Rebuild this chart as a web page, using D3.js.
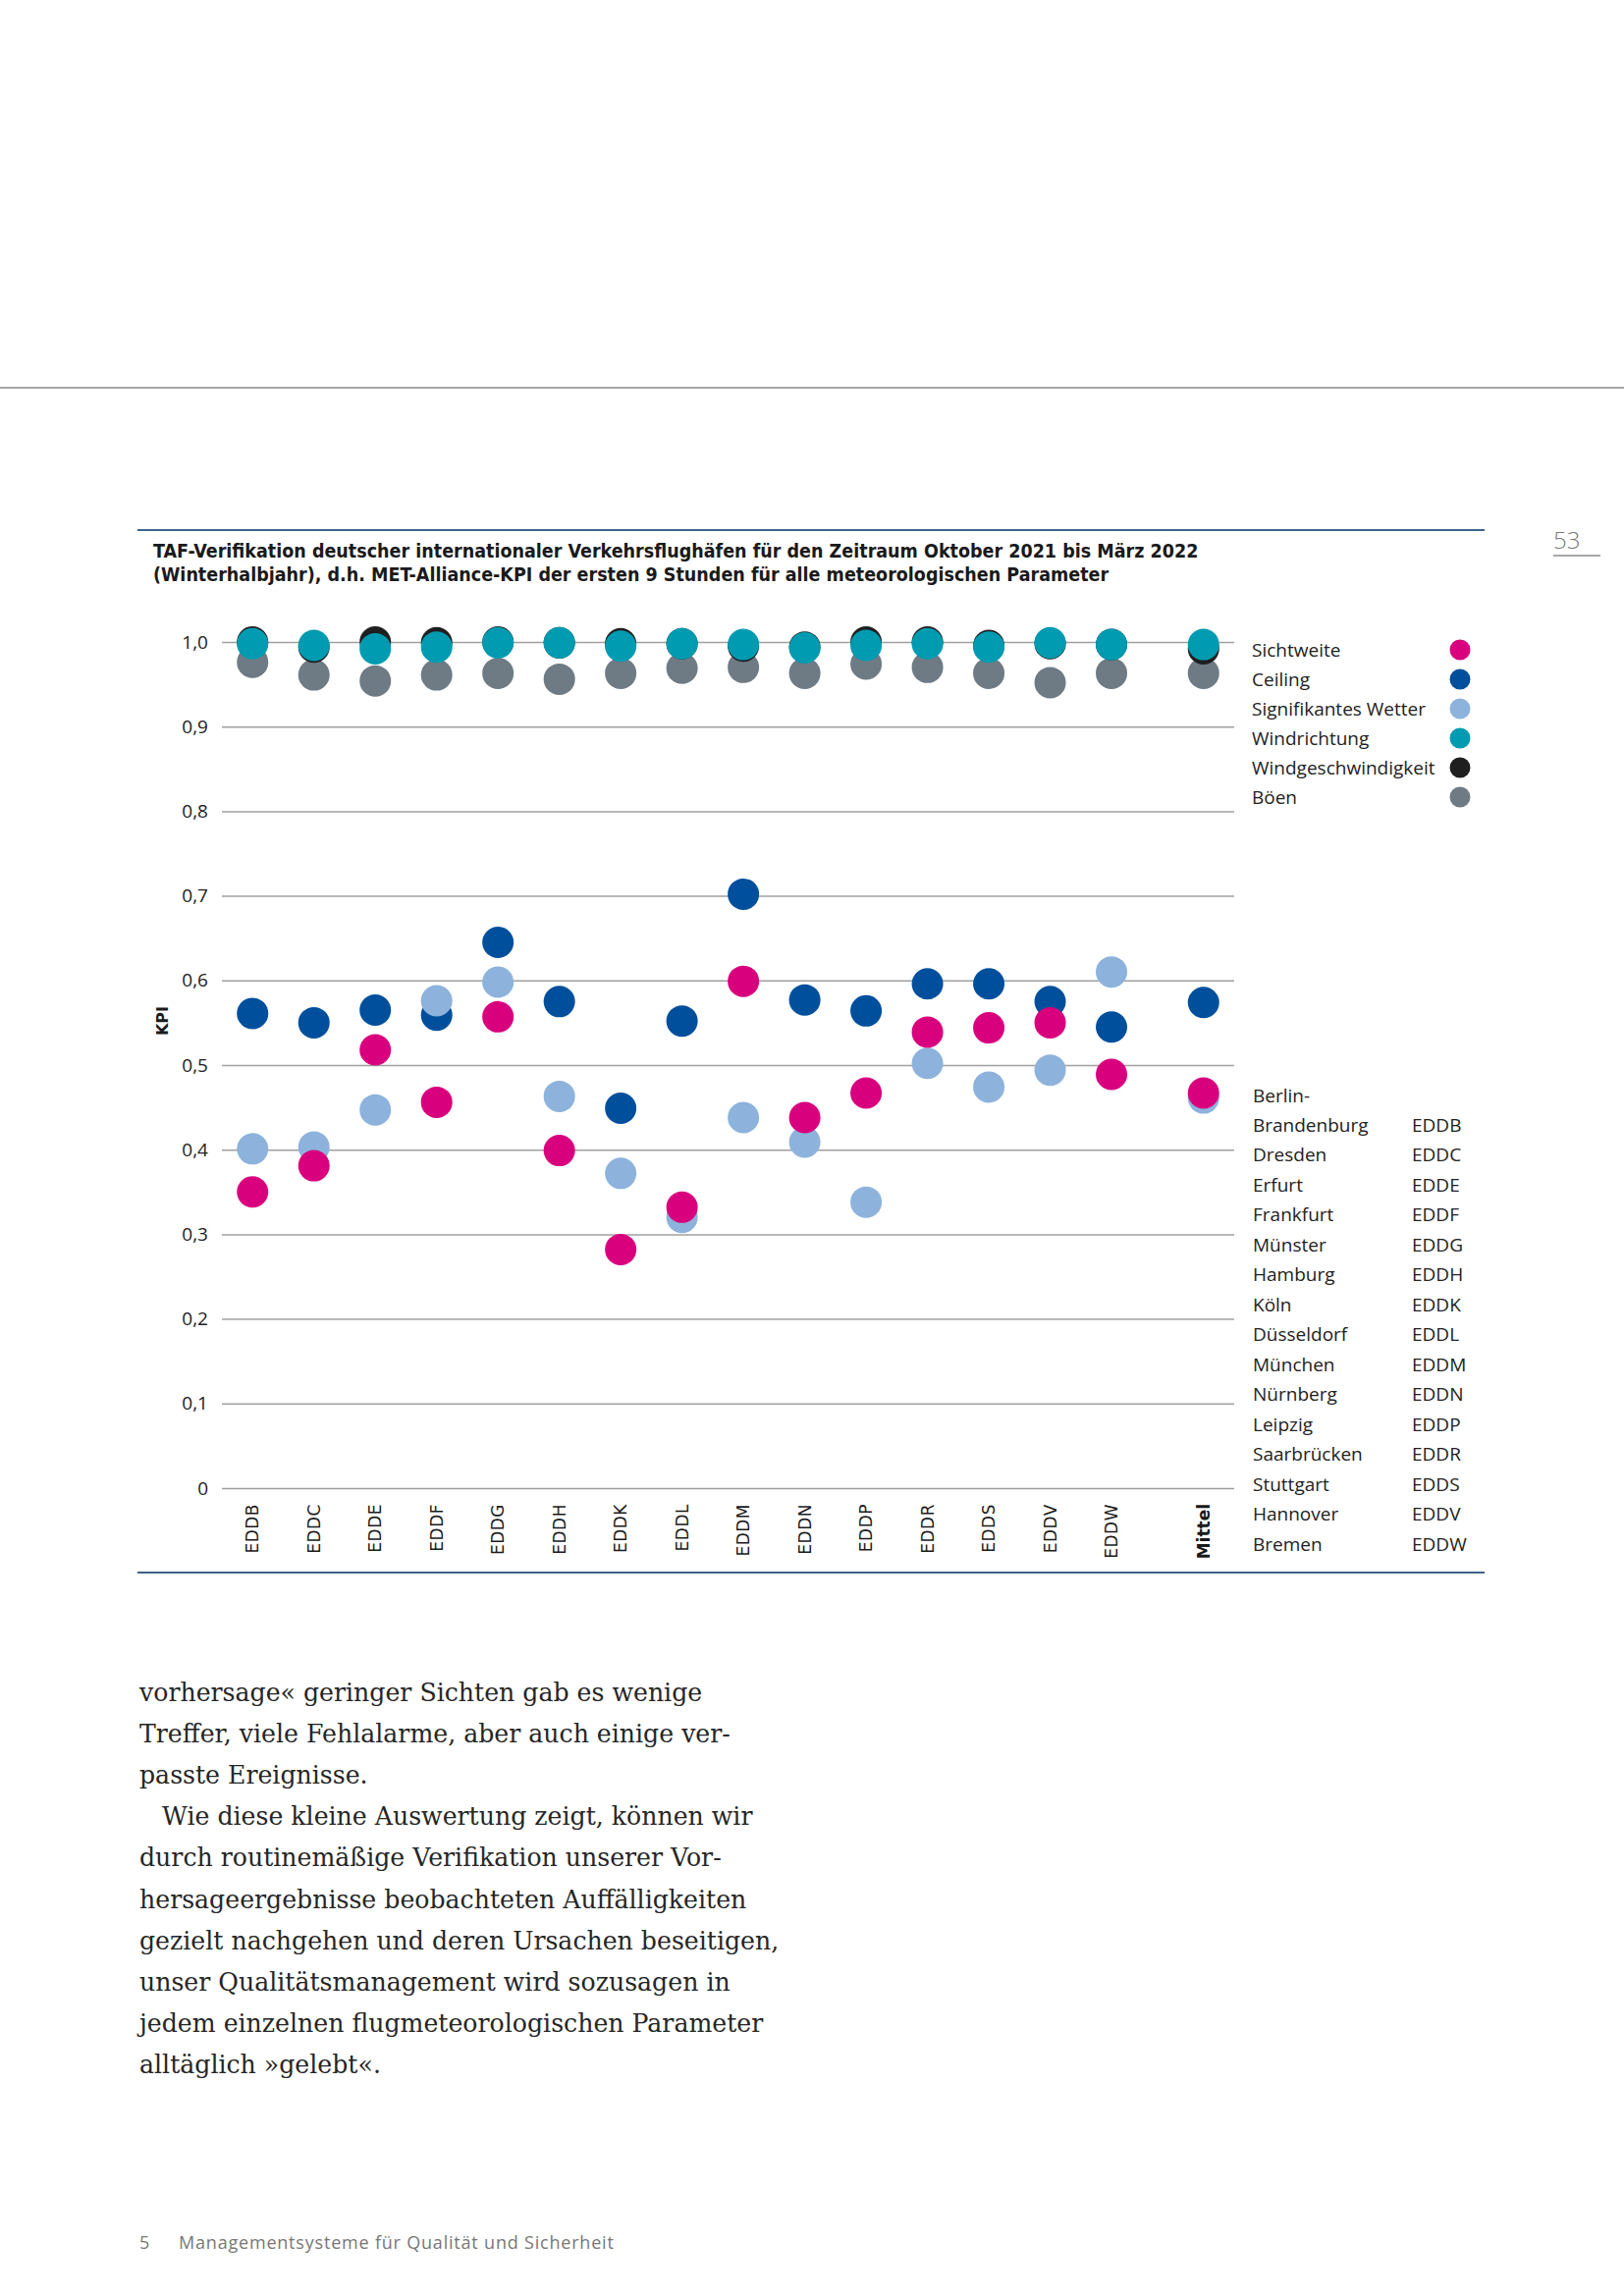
<!DOCTYPE html>
<html>
<head>
<meta charset="utf-8">
<script src="https://cdn.jsdelivr.net/npm/d3@7"></script>
<style>
  body { margin: 0; background: #fff; }
  svg { display: block; }
</style>
</head>
<body>
<svg width="1654" height="2339"></svg>
<script>
(function () {
  'use strict';

  // airports on the x axis, the last entry is the mean
  var categories = ["EDDB", "EDDC", "EDDE", "EDDF", "EDDG", "EDDH", "EDDK", "EDDL",
                    "EDDM", "EDDN", "EDDP", "EDDR", "EDDS", "EDDV", "EDDW", "Mittel"];

  // KPI values per parameter (same order as categories)
  var sichtweite   = [0.350, 0.381, 0.518, 0.456, 0.557, 0.399, 0.282, 0.332, 0.599, 0.438, 0.467, 0.539, 0.544, 0.550, 0.489, 0.467];
  var ceiling      = [0.561, 0.550, 0.565, 0.559, 0.645, 0.575, 0.449, 0.552, 0.702, 0.577, 0.564, 0.596, 0.596, 0.575, 0.545, 0.574];
  var sigWetter    = [0.401, 0.403, 0.447, 0.576, 0.598, 0.463, 0.372, 0.320, 0.438, 0.409, 0.338, 0.502, 0.474, 0.494, 0.610, 0.461];
  var windrichtung = [0.998, 0.996, 0.992, 0.994, 0.999, 0.999, 0.995, 0.998, 0.997, 0.993, 0.996, 0.998, 0.994, 0.999, 0.997, 0.997];
  var windgeschw   = [1.000, 0.994, 1.000, 0.999, 1.000, 0.999, 0.998, 0.998, 0.995, 0.994, 1.000, 1.000, 0.996, 0.998, 0.997, 0.992];
  var boeen        = [0.976, 0.961, 0.954, 0.961, 0.963, 0.956, 0.963, 0.969, 0.970, 0.963, 0.974, 0.970, 0.963, 0.952, 0.963, 0.963];

  var yTicks = [0, 0.1, 0.2, 0.3, 0.4, 0.5, 0.6, 0.7, 0.8, 0.9, 1.0];

  // airport name table on the right
  var airportNames = ["Berlin-\nBrandenburg", "Dresden", "Erfurt", "Frankfurt", "Münster", "Hamburg", "Köln",
                      "Düsseldorf", "München", "Nürnberg", "Leipzig", "Saarbrücken", "Stuttgart", "Hannover", "Bremen"];
  var airportCodes = categories.slice(0, 15);

  // legend order, and the order in which the dots are painted (last on top)
  var series = [
    { name: "Sichtweite",           values: sichtweite,   color: "#d9007e" },
    { name: "Ceiling",              values: ceiling,      color: "#004f9c" },
    { name: "Signifikantes Wetter", values: sigWetter,    color: "#8db3dc" },
    { name: "Windrichtung",         values: windrichtung, color: "#009bb1" },
    { name: "Windgeschwindigkeit",  values: windgeschw,   color: "#1f1f1f" },
    { name: "Böen",                 values: boeen,        color: "#6e7b84" }
  ];
  var drawOrder = ["Böen", "Windgeschwindigkeit", "Windrichtung", "Ceiling", "Signifikantes Wetter", "Sichtweite"];

  var svg = d3.select("svg");
  var sans = "'Open Sans', 'DejaVu Sans', sans-serif";

  // page furniture
  svg.append("rect").attr("width", 1654).attr("height", 2339).attr("fill", "#fff");
  svg.append("line").attr("x1", 0).attr("x2", 1654).attr("y1", 395).attr("y2", 395)
      .attr("stroke", "#8a8a8a").attr("stroke-width", 1.5);
  svg.append("text").attr("x", 1582).attr("y", 559).text("53")
      .attr("font-family", sans).attr("font-weight", 300).attr("font-size", 24).attr("fill", "#777");
  svg.append("line").attr("x1", 1582).attr("x2", 1630).attr("y1", 566).attr("y2", 566)
      .attr("stroke", "#8a8a8a").attr("stroke-width", 1.5);

  // blue rules framing the figure
  [540, 1602].forEach(function(y) {
    svg.append("line").attr("x1", 140).attr("x2", 1512).attr("y1", y).attr("y2", y)
        .attr("stroke", "#3d6489").attr("stroke-width", 2);
  });

  // title
  var title = svg.append("text").attr("font-family", "'DejaVu Sans Condensed', 'DejaVu Sans', sans-serif")
      .attr("font-weight", 700).attr("font-size", 19.5).attr("fill", "#1a1a1a");
  title.append("tspan").attr("x", 156).attr("y", 568)
      .text("TAF-Verifikation deutscher internationaler Verkehrsflughäfen für den Zeitraum Oktober 2021 bis März 2022");
  title.append("tspan").attr("x", 156).attr("y", 592)
      .text("(Winterhalbjahr), d.h. MET-Alliance-KPI der ersten 9 Stunden für alle meteorologischen Parameter");

  // scales: Mittel sits one and a half slots after the last airport
  var xPos = categories.map(function(d, i) { return i < 15 ? i : 15.5; });
  var x = d3.scaleLinear().domain([-0.5, 16]).range([226, 1257]);
  var y = d3.scaleLinear().domain([0, 1]).range([1516, 654]);

  // gridlines + y labels
  var yAxis = d3.axisLeft(y).tickValues(yTicks).tickSize(-(1257 - 226)).tickPadding(14)
      .tickFormat(function(d) { return d === 0 ? "0" : d3.format(".1f")(d).replace(".", ","); });
  var gy = svg.append("g").attr("transform", "translate(226,0)").call(yAxis);
  gy.select(".domain").remove();
  gy.selectAll(".tick line").attr("stroke", "#a0a0a0").attr("stroke-width", 1.5);
  gy.selectAll(".tick text").attr("font-family", sans).attr("font-size", 19).attr("fill", "#222");

  svg.append("text").attr("transform", "translate(165,1040) rotate(-90)")
      .attr("text-anchor", "middle").attr("dy", "0.35em")
      .attr("font-family", "'DejaVu Sans', sans-serif").attr("font-weight", "bold").attr("font-size", 16)
      .attr("fill", "#1a1a1a").text("KPI");

  // rotated x labels
  svg.append("g").selectAll("text")
    .data(categories)
    .enter().append("text")
      .attr("transform", function(d, i) { return "translate(" + x(xPos[i]) + ",1532) rotate(-90)"; })
      .attr("text-anchor", "end")
      .attr("dy", "0.36em")
      .attr("font-family", "'DejaVu Sans', sans-serif")
      .attr("font-size", 17)
      .attr("font-weight", function(d) { return d === "Mittel" ? "bold" : "normal"; })
      .attr("letter-spacing", function(d) { return d === "Mittel" ? 0 : 0.5; })
      .attr("fill", "#1a1a1a")
      .text(function(d) { return d; });

  // dots
  var dots = svg.append("g");
  drawOrder.forEach(function(name) {
    var s = series.find(function(d) { return d.name === name; });
    dots.append("g").selectAll("circle")
      .data(s.values)
      .enter().append("circle")
        .attr("cx", function(d, i) { return x(xPos[i]); })
        .attr("cy", function(d) { return y(d); })
        .attr("r", 16)
        .attr("fill", s.color);
  });

  // legend
  var legend = svg.append("g").selectAll("g")
    .data(series)
    .enter().append("g")
      .attr("transform", function(d, i) { return "translate(0," + (662 + i * 30) + ")"; });
  legend.append("text").attr("x", 1275).attr("dy", "0.35em")
      .attr("font-family", sans).attr("font-size", 19).attr("fill", "#222")
      .text(function(d) { return d.name; });
  legend.append("circle").attr("cx", 1487).attr("r", 10.5)
      .attr("fill", function(d) { return d.color; });

  // airport table
  var rowY = d3.scaleLinear().domain([0, 14]).range([1146, 1573]);
  var rows = svg.append("g").selectAll("g")
    .data(airportCodes)
    .enter().append("g")
      .attr("transform", function(d, i) { return "translate(0," + rowY(i) + ")"; })
      .attr("font-family", sans).attr("font-size", 19).attr("fill", "#222");
  rows.append("text").attr("x", 1438).attr("dy", "0.35em").text(function(d) { return d; });
  rows.append("text").attr("x", 1276)
    .selectAll("tspan")
    .data(function(d, i) { return airportNames[i].split("\n").reverse(); })
    .enter().append("tspan")
      .attr("x", 1276)
      .attr("y", function(d, i) { return -i * 30; })
      .attr("dy", "0.35em")
      .text(function(d) { return d; });

  // body text below the figure
  var bodyLines = [
    "vorhersage« geringer Sichten gab es wenige",
    "Treffer, viele Fehlalarme, aber auch einige ver-",
    "passte Ereignisse.",
    "Wie diese kleine Auswertung zeigt, können wir",
    "durch routinemäßige Verifikation unserer Vor-",
    "hersageergebnisse beobachteten Auffälligkeiten",
    "gezielt nachgehen und deren Ursachen beseitigen,",
    "unser Qualitätsmanagement wird sozusagen in",
    "jedem einzelnen flugmeteorologischen Parameter",
    "alltäglich »gelebt«."
  ];
  svg.append("g").selectAll("text")
    .data(bodyLines)
    .enter().append("text")
      .attr("x", function(d, i) { return i === 3 ? 165 : 142; })
      .attr("y", function(d, i) { return 1733 + i * 42.1; })
      .attr("font-family", "'DejaVu Serif', serif")
      .attr("font-size", 25.2)
      .attr("fill", "#262626")
      .text(function(d) { return d; });

  // footer
  var footer = svg.append("g").attr("font-family", sans).attr("font-size", 18)
      .attr("letter-spacing", 0.8).attr("fill", "#777");
  footer.append("text").attr("x", 142).attr("y", 2291).text("5");
  footer.append("text").attr("x", 182).attr("y", 2291).text("Managementsysteme für Qualität und Sicherheit");

}());
</script>
</body>
</html>
